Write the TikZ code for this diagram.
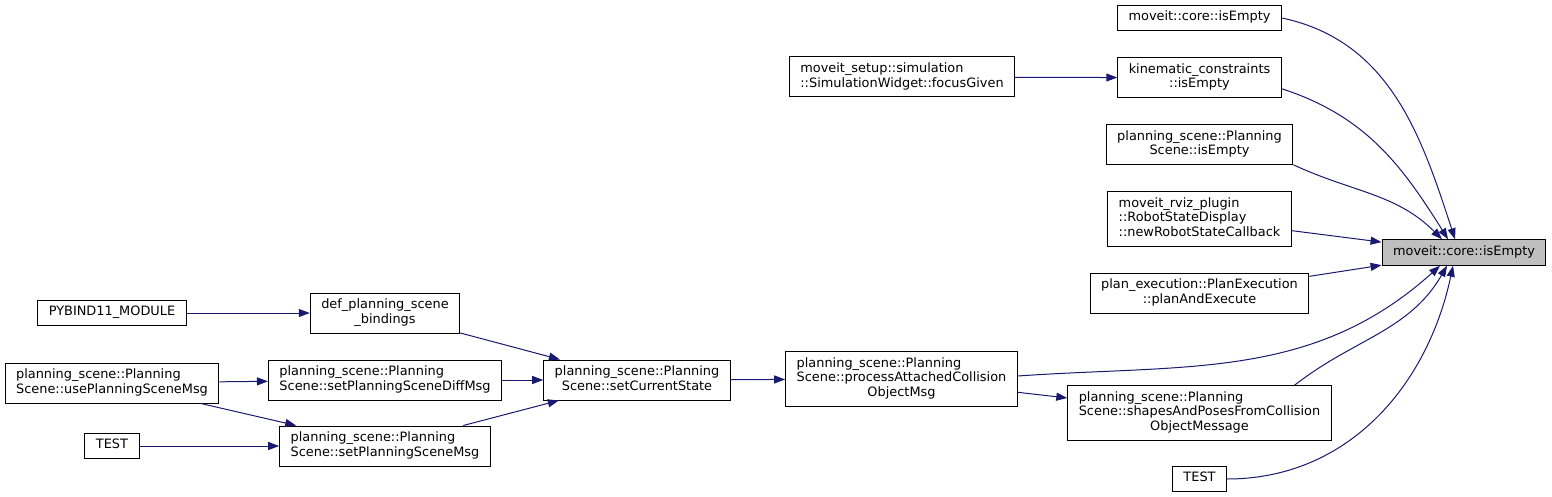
\documentclass[tikz,border=0pt]{standalone}
\usepackage{fontspec}
\setmainfont{DejaVu Sans}
\usepackage{tikz}
\usetikzlibrary{positioning, arrows.meta}
\definecolor{edgeblue}{HTML}{191970}
\definecolor{hilite}{HTML}{BFBFBF}
% lines before the last one are left-aligned, the last one centred
\newcommand{\fnlines}[2]{\begin{tabular}{@{}l@{}}#1\\\multicolumn{1}{@{}c@{}}{#2}\end{tabular}}
\tikzset{
  fnbox/.style={rectangle, draw=black, line width=1pt, fill=white, inner xsep=11pt, inner ysep=5.5pt, font=\fontsize{12.9pt}{14.5pt}\selectfont},
  focus/.style={fnbox, fill=hilite},
  call/.style={draw=edgeblue, line width=1pt, -{Triangle[length=11pt,width=8pt]}, edgeblue}
}
\begin{document}
\begin{tikzpicture}[x=1pt, y=1pt, node distance=26pt]
  \useasboundingbox (0,0) rectangle (1552,-497);

  % the function whose callers are shown
  \node (target) [focus] at (1464,-252.5) {\strut moveit::core::isEmpty};

  % direct callers
  \node (coreempty) [fnbox] at (1199.5,-18) {\strut moveit::core::isEmpty};
  \node (kinempty) [fnbox, below=of coreempty] {\fnlines{kinematic\_constraints}{::isEmpty}};
  \node (sceneempty) [fnbox, below=of kinempty] {\fnlines{planning\_scene::Planning}{Scene::isEmpty}};
  \node (rvizcb) [fnbox, below=of sceneempty] {\fnlines{moveit\_rviz\_plugin\\::RobotStateDisplay}{::newRobotStateCallback}};
  \node (planexec) [fnbox, below=of rvizcb] {\fnlines{plan\_execution::PlanExecution}{::planAndExecute}};
  \node (shapesposes) [fnbox] at (1199.5,-413) {\fnlines{planning\_scene::Planning\\Scene::shapesAndPosesFromCollision}{ObjectMessage}};
  \node (testa) [fnbox, below=25pt of shapesposes] {\strut TEST};
  \node (attached) [fnbox] at (901.5,-379) {\fnlines{planning\_scene::Planning\\Scene::processAttachedCollision}{ObjectMsg}};

  % callers further out
  \node (focusgiven) [fnbox] at (902,-77) {\fnlines{moveit\_setup::simulation}{::SimulationWidget::focusGiven}};
  \node (curstate) [fnbox] at (637,-380) {\fnlines{planning\_scene::Planning}{Scene::setCurrentState}};
  \node (diffmsg) [fnbox] at (385,-380) {\fnlines{planning\_scene::Planning}{Scene::setPlanningSceneDiffMsg}};
  \node (bindings) [fnbox, above=of diffmsg] {\fnlines{def\_planning\_scene}{\_bindings}};
  \node (scenemsg) [fnbox, below=25pt of diffmsg] {\fnlines{planning\_scene::Planning}{Scene::setPlanningSceneMsg}};
  \node (usemsg) [fnbox] at (112,-383) {\fnlines{planning\_scene::Planning}{Scene::usePlanningSceneMsg}};
  \node (pybind) [fnbox] at (112,0 |- bindings) {\strut PYBIND11\_MODULE};
  \node (testb) [fnbox] at (112,0 |- scenemsg) {\strut TEST};

  % edges into the target
  \draw [call] (coreempty.east) to[out=-12, in=108] ([xshift=-9pt]target.north);
  \draw [call] ([yshift=-11pt]kinempty.east) to[out=-18, in=122] ([xshift=-16pt]target.north);
  \draw [call] ([yshift=-20pt]sceneempty.east) to[out=-25, in=135] ([xshift=-22pt]target.north);
  \draw [call] (rvizcb) -- (target);
  \draw [call] (planexec) -- (target);
  \draw [call] ([yshift=3pt]attached.east) to[out=4, in=-138] ([xshift=-24pt]target.south);
  \draw [call] ([xshift=95pt]shapesposes.north) to[out=38, in=-120] ([xshift=-17pt]target.south);
  \draw [call] (testa.east) to[out=0, in=-102] ([xshift=-11pt]target.south);

  % the rest of the call chain
  \draw [call] (focusgiven) -- (kinempty);
  \draw [call] (curstate) -- (attached);
  \draw [call] (attached) -- (shapesposes);
  \draw [call] (bindings) -- (curstate);
  \draw [call] (diffmsg) -- (curstate);
  \draw [call] (scenemsg) -- (curstate);
  \draw [call] (pybind) -- (bindings);
  \draw [call] (usemsg) -- (diffmsg);
  \draw [call] (usemsg) -- (scenemsg);
  \draw [call] (testb) -- (scenemsg);
\end{tikzpicture}
\end{document}
